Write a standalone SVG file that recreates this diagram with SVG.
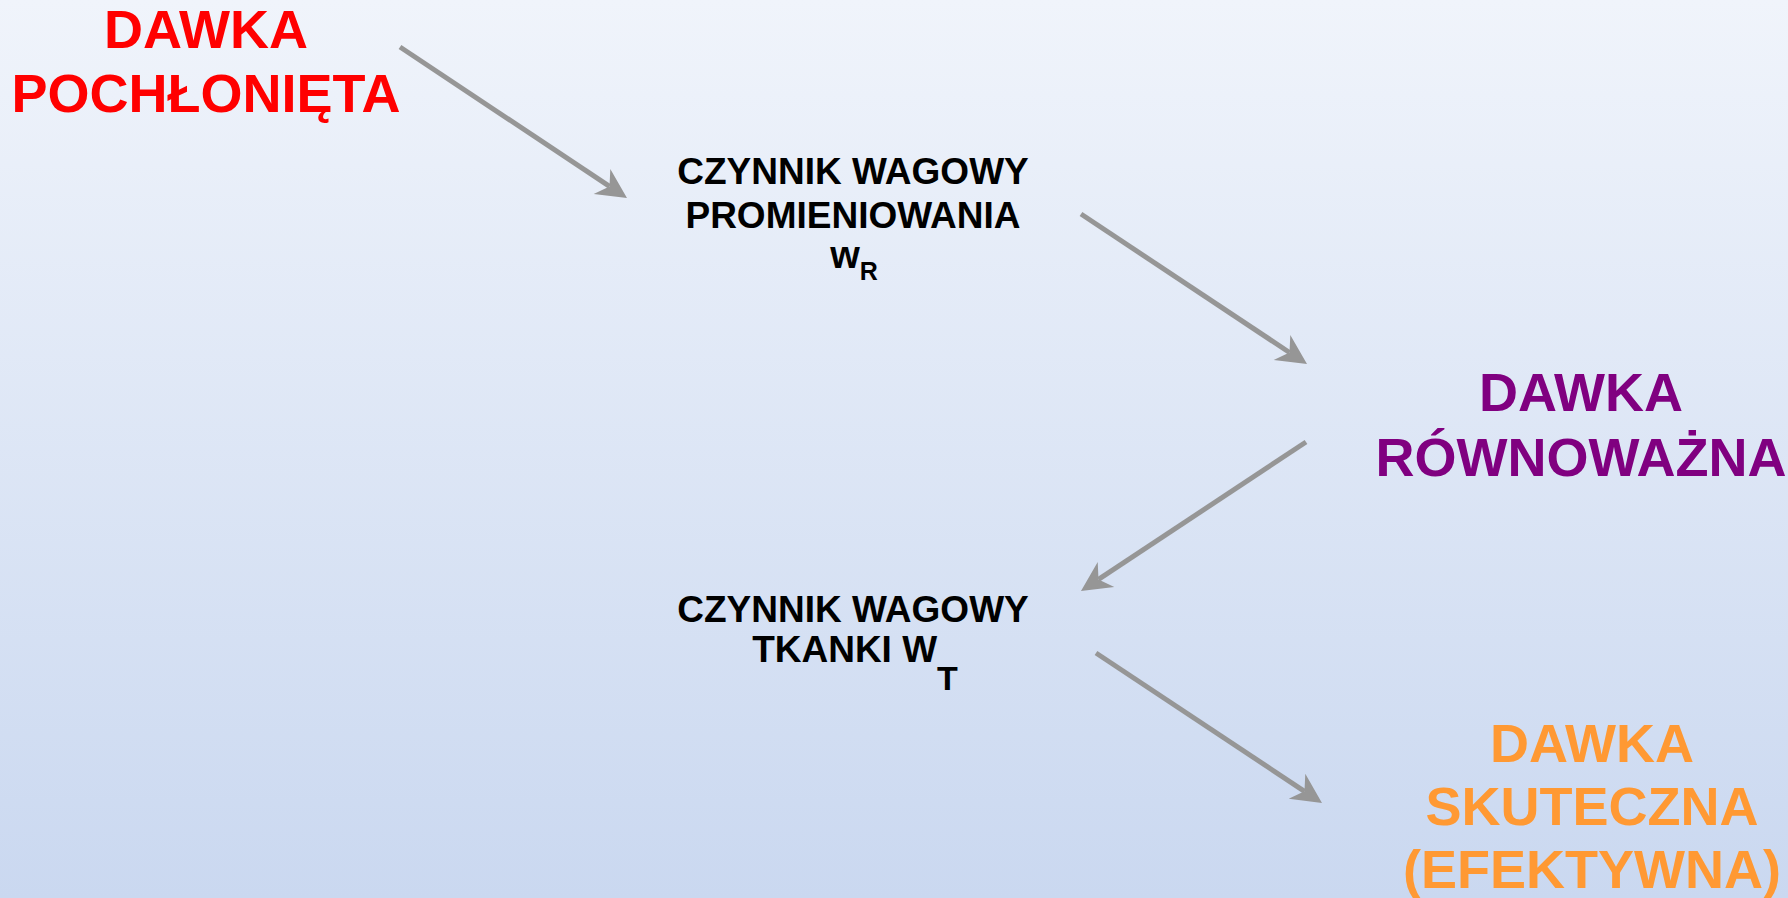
<svg xmlns="http://www.w3.org/2000/svg" width="1788" height="898" viewBox="0 0 1788 898">
  <defs>
    <linearGradient id="bg" x1="0" y1="0" x2="0" y2="1">
      <stop offset="0" stop-color="#F0F4FB"/>
      <stop offset="1" stop-color="#CAD8F0"/>
    </linearGradient>
    <marker id="ah" markerUnits="userSpaceOnUse" markerWidth="40" markerHeight="40" refX="0" refY="0" orient="auto" overflow="visible" viewBox="-20 -20 40 40">
      <path d="M21,0 L-9,-15 L0,0 L-9,15 Z" fill="#969696"/>
    </marker>
  </defs>
  <style>
    .big { font-family: "Liberation Sans", Arial, sans-serif; font-weight: bold; font-size: 54px; text-anchor: middle; }
    .small { font-family: "Liberation Sans", Arial, sans-serif; font-weight: bold; font-size: 37px; text-anchor: middle; fill: #000; }
    .conn { stroke: #969696; stroke-width: 5; fill: none; marker-end: url(#ah); }
  </style>
  <rect x="0" y="0" width="1788" height="898" fill="url(#bg)"/>

  <g id="connectors">
    <line class="conn" x1="400" y1="47" x2="609.5" y2="186.4"/>
    <line class="conn" x1="1081" y1="214" x2="1289.5" y2="352.5"/>
    <line class="conn" x1="1306" y1="442" x2="1098.5" y2="579.4"/>
    <line class="conn" x1="1096" y1="653" x2="1304.5" y2="791.3"/>
  </g>

  <g id="dawka-pochlonieta">
    <text class="big" fill="#FF0000" x="206" y="48">DAWKA</text>
    <text class="big" fill="#FF0000" x="206" y="112">POCHŁONIĘTA</text>
  </g>

  <g id="czynnik-promieniowania">
    <text class="small" x="853" y="184">CZYNNIK WAGOWY</text>
    <text class="small" x="853" y="228">PROMIENIOWANIA</text>
    <text class="small" x="854" y="268"><tspan font-size="38">w</tspan><tspan font-size="25" dy="12">R</tspan></text>
  </g>

  <g id="dawka-rownowazna">
    <text class="big" fill="#800080" x="1581" y="411">DAWKA</text>
    <text class="big" fill="#800080" x="1581" y="476">RÓWNOWAŻNA</text>
  </g>

  <g id="czynnik-tkanki">
    <text class="small" x="853" y="622">CZYNNIK WAGOWY</text>
    <text class="small" x="855" y="662">TKANKI W<tspan font-size="34" dy="28">T</tspan></text>
  </g>

  <g id="dawka-skuteczna">
    <text class="big" fill="#FF9933" x="1592" y="762">DAWKA</text>
    <text class="big" fill="#FF9933" x="1592" y="825">SKUTECZNA</text>
    <text class="big" fill="#FF9933" x="1592" y="888">(EFEKTYWNA)</text>
  </g>
</svg>
